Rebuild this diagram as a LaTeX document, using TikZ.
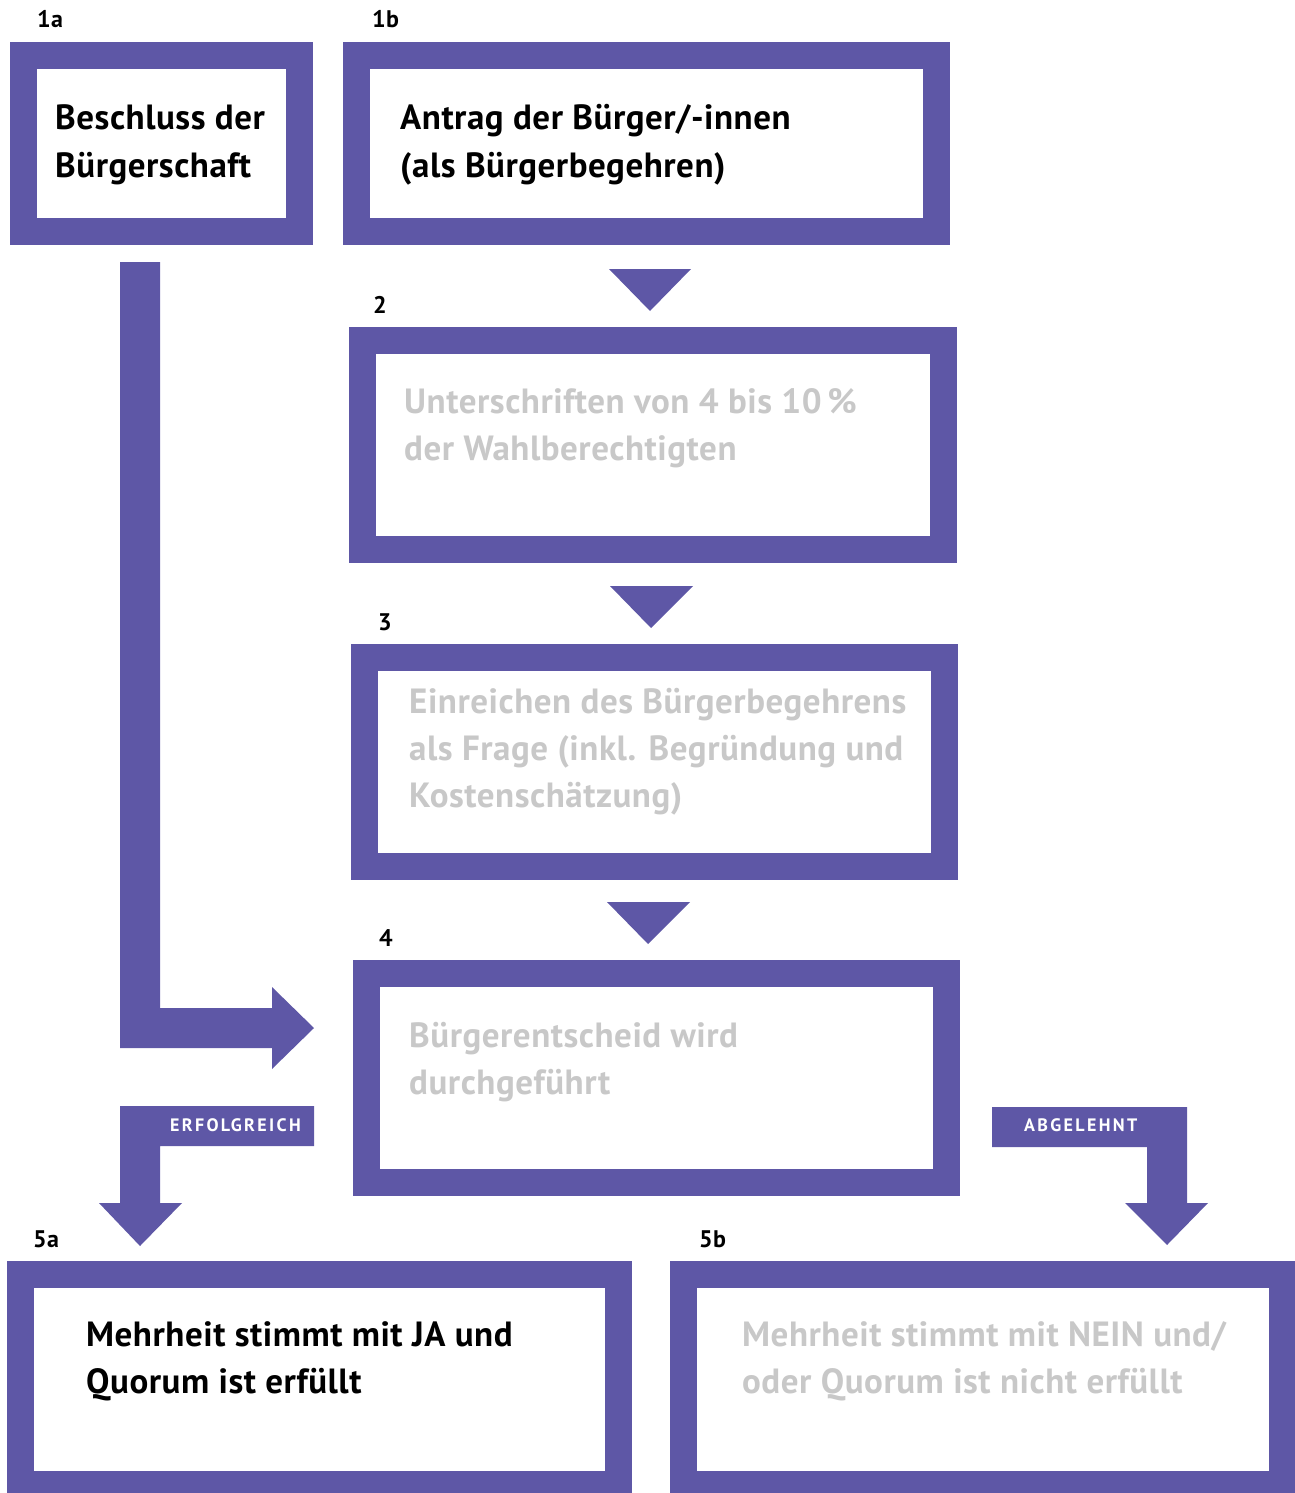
\documentclass[tikz,border=0pt]{standalone}
\usepackage{fontspec}
\setmainfont{PT Sans}[LetterSpace=1.5]
\definecolor{vio}{HTML}{5E57A6}
\definecolor{greytext}{HTML}{C8C8C8}
\tikzset{
  box/.style={draw=vio, fill=white, line width=27pt, inner sep=0pt, rectangle},
  txt/.style={anchor=base west, inner sep=0pt, font=\fontsize{35}{47}\bfseries\selectfont},
  dark/.style={txt, text=black},
  light/.style={txt, text=greytext},
  num/.style={anchor=base west, inner sep=0pt, font=\fontsize{24}{28}\bfseries\selectfont},
  tag/.style={anchor=base west, inner sep=0pt, text=white, font=\fontsize{18}{20}\bfseries\addfontfeature{LetterSpace=13}\selectfont},
  arrowshape/.style={fill=vio, draw=none}
}
\begin{document}
\begin{tikzpicture}[x=1pt,y=-1pt]
\useasboundingbox (0,0) rectangle (1295,1493);
% boxes
\node[box, minimum width=276, minimum height=176] (b1a) at (161.5,143.5) {};
\node[box, minimum width=580, minimum height=176] (b1b) at (646.5,143.5) {};
\node[box, minimum width=581, minimum height=209] (b2) at (653,445) {};
\node[box, minimum width=580, minimum height=209] (b3) at (654.5,762) {};
\node[box, minimum width=580, minimum height=209] (b4) at (656.5,1078) {};
\node[box, minimum width=598, minimum height=210] (b5a) at (319.5,1379.5) {};
\node[box, minimum width=599, minimum height=210] (b5b) at (983,1379.5) {};
% numbers
\node[num] (n1a) at (37,28) {1a};
\node[num] (n1b) at (372,28) {1b};
\node[num] (n2) at (373,313) {2};
\node[num] (n3) at (378,630) {3};
\node[num] (n4) at (379,946) {4};
\node[num] (n5a) at (33,1247) {5a};
\node[num] (n5b) at (699,1247) {5b};
% texts
\node[dark] (t1a1) at (55,130) {Beschluss der};
\node[dark] (t1a2) at (55,177) {Bürgerschaft};
\node[dark] (t1b1) at (400,130) {Antrag der Bürger/-innen};
\node[dark] (t1b2) at (400,177) {(als Bürgerbegehren)};
\node[light] (t21) at (404,413) {Unterschriften von 4 bis 10\,\%};
\node[light] (t22) at (404,460) {der Wahlberechtigten};
\node[light] (t31) at (409,713) {Einreichen des Bürgerbegehrens};
\node[light] (t32) at (409,760) {als Frage (inkl. Begründung und};
\node[light] (t33) at (409,807) {Kostenschätzung)};
\node[light] (t41) at (409,1047) {Bürgerentscheid wird};
\node[light] (t42) at (409,1094) {durchgeführt};
\node[dark] (t5a1) at (86,1346) {Mehrheit stimmt mit JA und};
\node[dark] (t5a2) at (86,1393) {Quorum ist erfüllt};
\node[light] (t5b1) at (742,1346) {Mehrheit stimmt mit NEIN und/};
\node[light] (t5b2) at (742,1393) {oder Quorum ist nicht erfüllt};
% chevrons
\fill[arrowshape] (609,269) -- (691,269) -- (650,311) -- cycle;
\fill[arrowshape] (610,586) -- (693,586) -- (651,628) -- cycle;
\fill[arrowshape] (607,902) -- (690,902) -- (648,944) -- cycle;
% L arrow 1a -> 4
\fill[arrowshape] (120,262) -- (160,262) -- (160,1008) -- (272,1008) -- (272,987) -- (314,1028) -- (272,1069) -- (272,1048) -- (120,1048) -- cycle;
% erfolgreich
\fill[arrowshape] (120,1106) -- (314,1106) -- (314,1146) -- (160,1146) -- (160,1203) -- (182,1203) -- (140,1246) -- (99,1203) -- (120,1203) -- cycle;
\node[tag] (erf) at (170,1131) {ERFOLGREICH};
% abgelehnt
\fill[arrowshape] (992,1107) -- (1187,1107) -- (1187,1203) -- (1208,1203) -- (1167,1245) -- (1125,1203) -- (1147,1203) -- (1147,1147) -- (992,1147) -- cycle;
\node[tag] (abg) at (1024,1131) {ABGELEHNT};
\end{tikzpicture}
\end{document}
